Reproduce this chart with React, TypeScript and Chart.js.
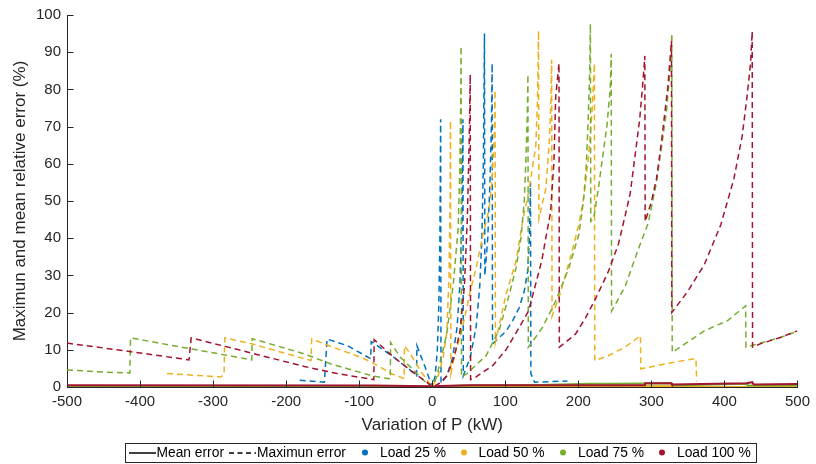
import React, { useEffect, useRef } from "react";
import { Chart, registerables } from "chart.js";

Chart.register(...registerables);

type Pt = [number, number];

const xTicks: number[] = [-500, -400, -300, -200, -100, 0, 100, 200, 300, 400, 500];
const yTicks: number[] = [0, 10, 20, 30, 40, 50, 60, 70, 80, 90, 100];

const xTitle = "Variation of P (kW)";
const yTitle = "Maximun and mean relative error (%)";
const legendLabels = ["Mean error", "Maximun error", "Load 25 %", "Load 50 %", "Load 75 %", "Load 100 %"];

const loadColors = ["#0072BD", "#EDB120", "#77AC30", "#A2142F"];

// Load 25 %
const maxLoad25: Pt[] = [
  [-181.5, 1.8], [-147.6, 1.3], [-144, 12.9], [-116, 11.1], [-84.4, 7.6], [-83.5, 12.2],
  [-52.6, 8], [-30, 4.5], [-21.5, 3], [-21, 11.1], [-10, 5.5], [0, 0],
  [4, 3], [7, 10], [9, 22], [10.5, 40], [11.5, 72], [12, 1],
  [20, 3], [28, 8], [34, 16], [38, 28], [40.5, 45], [42, 72], [42.5, 3],
  [52, 8], [60, 16], [65, 27], [68, 40], [70, 60], [71.5, 95], [72, 30],
  [76, 40], [79, 55], [81, 70], [82, 87], [82.5, 11.6],
  [101, 15], [110, 17.8], [119, 21.3], [126, 25.8], [130.5, 31], [133, 40], [134.5, 55], [135, 3.6],
  [140, 1.3], [185, 1.6],
];
const meanLoad25: Pt[] = [
  [-181.5, 0.1], [-20, 0.1], [0, 0], [20, 0.1], [185, 0.1],
];

// Load 50 %
const maxLoad50: Pt[] = [
  [-363, 3.6], [-320, 3.1], [-290, 2.7], [-285, 3.3], [-284, 13.2], [-247, 11.6], [-175, 7.6],
  [-166, 7.1], [-165, 12.9], [-136, 10.7], [-116, 9.3], [-93, 7.6], [-75, 5.8], [-55, 3.5],
  [-38.5, 2.3], [-38, 11.1], [-30, 8.9], [-16.6, 4.5], [0, 0],
  [8, 3], [15, 8], [20, 15], [23, 30], [24.5, 50], [25, 71.6], [25.5, 3.6],
  [31, 8.9], [37.7, 13.3], [44.5, 18.7], [51, 24.9], [60, 32], [69.5, 40.9], [78, 48], [82, 56],
  [84.5, 66], [86, 79.8], [86.5, 12],
  [101, 24.9], [114.7, 33.8], [123.7, 44.5], [132.7, 53.3], [141.8, 64.9], [144, 76.5], [145.5, 95.8], [146, 45.3],
  [155.4, 53.3], [160, 64.9], [162, 73.8], [163.5, 88], [164, 19],
  [175, 25], [188, 34], [196, 40], [200.5, 43.6], [205, 48], [209.6, 54.2], [214, 62.2], [218.7, 73.8], [222, 87], [222.5, 7.1],
  [241, 8.4], [264, 10.7], [285, 13.8], [285.5, 4.9],
  [309, 5.8], [332, 6.7], [361, 7.7], [362, 1.5],
];
const meanLoad50: Pt[] = [
  [-363, 0.2], [-40, 0.2], [0, 0], [25, 0.2], [222, 0.3], [362, 0.2], [363, 0], [500, 0],
];

// Load 75 %
const maxLoad75: Pt[] = [
  [-500, 4.6], [-450, 4.0], [-414, 3.8], [-413, 13.2], [-328.6, 10.2], [-247, 7.3], [-246.5, 13],
  [-175, 8.9], [-138.7, 6.2], [-84, 3.1], [-66, 2.4], [-57.5, 2.2], [-57, 12], [-43.7, 8],
  [-25.5, 4.5], [-12, 1.8], [0, 0],
  [6, 2.7], [19.7, 14.2], [28.8, 27.6], [35.5, 42.7], [37.8, 58.7], [39, 76.5], [39.5, 91.6], [40, 2.7],
  [47, 3.5], [74, 8.5], [92, 15.5], [105.6, 25], [114.7, 32], [121.4, 40], [126, 50], [128, 60], [130, 72], [131, 84], [131.5, 10.7],
  [135, 11.6], [151, 16], [169, 23.1], [187, 32], [200.7, 41], [207, 50], [211, 60], [213.5, 72], [215.5, 85], [216.5, 97.6], [217, 44.5],
  [221, 45.3], [228, 54.2], [232, 60], [239, 70], [243.6, 80], [245, 89.6], [245.5, 20.4],
  [264, 27], [282, 37], [295.6, 44], [307, 55], [320.5, 73.8], [326.4, 87], [328, 95], [328.5, 9.3],
  [372.5, 15.1], [404, 17.8], [429, 21.8], [429.5, 10.7],
  [440, 11.3], [476.5, 13.3], [500, 15],
];
const meanLoad75: Pt[] = [
  [-500, 0.3], [-60, 0.3], [0, 0], [40, 0.4], [131, 0.5], [217, 0.9], [245, 0.9], [328, 1.0],
  [330, 0.4], [430, 0.9], [432, 0.4], [500, 0.5],
];

// Load 100 %
const maxLoad100: Pt[] = [
  [-500, 11.8], [-420, 9.7], [-333, 7.3], [-330, 13.2], [-265, 10], [-175, 5.5], [-130, 3.6],
  [-80, 2.0], [-79.5, 12.7], [-52.6, 8], [-30, 4.5], [-7.5, 1.3], [0, 0],
  [10, 1], [20, 3], [30, 8], [38, 15], [44, 27], [48, 45], [50.5, 65], [52, 84], [52.5, 2],
  [60, 2.7], [83, 5.8], [101, 10], [119, 16], [132, 20.5], [142, 28], [150, 34], [155.4, 40], [162, 47],
  [166.6, 60.5], [169, 78], [173.5, 87], [174, 10.7],
  [196, 14.2], [209.6, 18.5], [223, 23.5], [241, 31], [255, 38.5], [264, 46], [271, 52], [277.5, 62],
  [284, 72], [288.7, 82.7], [291, 89], [291.5, 44.5],
  [300, 49.8], [307, 56], [313.7, 65.8], [318, 73], [322.7, 81], [327.5, 93], [328, 20],
  [350, 25.8], [372.5, 32.9], [395, 43.6], [413, 56], [424.4, 67.6], [431, 78.2], [435.8, 87.1], [438, 95.6], [438.5, 10.7],
  [449, 11.6], [476.5, 13.3], [500, 15.1],
];
const meanLoad100: Pt[] = [
  [-500, 0.45], [-80, 0.4], [-5, 0.2], [0, 0], [10, 0.3], [52, 0.45], [291, 0.45], [291.5, 1.0],
  [327, 1.0], [328, 0.7], [430, 1.0], [438, 1.3], [440, 0.7], [500, 0.8],
];

const maxSeries = [maxLoad25, maxLoad50, maxLoad75, maxLoad100];
const meanSeries = [meanLoad25, meanLoad50, meanLoad75, meanLoad100];

const FONT = "'Liberation Sans', Arial, Helvetica, sans-serif";
const AXIS = "#262626";

const inwardTicks = {
  id: "inwardTicks",
  afterDraw(chart: any) {
    const { ctx, chartArea } = chart;
    const xs = chart.scales.x;
    const ys = chart.scales.y;
    ctx.save();
    ctx.strokeStyle = AXIS;
    ctx.lineWidth = 1;
    ctx.beginPath();
    xTicks.forEach((v) => {
      const px = Math.round(xs.getPixelForValue(v)) + 0.5;
      ctx.moveTo(px, chartArea.bottom);
      ctx.lineTo(px, chartArea.bottom - 6.5);
    });
    yTicks.forEach((v) => {
      const py = Math.round(ys.getPixelForValue(v)) + 0.5;
      ctx.moveTo(chartArea.left, py);
      ctx.lineTo(chartArea.left + 6.5, py);
    });
    ctx.stroke();
    ctx.restore();
  },
};

const legendBox = {
  id: "legendBox",
  afterDraw(chart: any) {
    const { ctx } = chart;
    ctx.save();
    const top = 443.5;
    const h = 19;
    const cy = top + h / 2;
    ctx.fillStyle = "#ffffff";
    ctx.fillRect(125.5, top, 631, h);
    ctx.strokeStyle = AXIS;
    ctx.lineWidth = 1;
    ctx.strokeRect(125.5, top, 631, h);
    ctx.font = `13.8px ${FONT}`;
    ctx.textBaseline = "middle";
    ctx.textAlign = "left";
    ctx.fillStyle = "#000000";
    ctx.strokeStyle = "#000000";
    ctx.lineWidth = 1.5;
    ctx.beginPath();
    ctx.moveTo(129, cy);
    ctx.lineTo(156, cy);
    ctx.stroke();
    ctx.fillText(legendLabels[0], 156.5, cy + 0.5);
    ctx.setLineDash([5, 3.5]);
    ctx.beginPath();
    ctx.moveTo(229, cy);
    ctx.lineTo(256, cy);
    ctx.stroke();
    ctx.setLineDash([]);
    ctx.fillText(legendLabels[1], 257, cy + 0.5);
    const dotX = [365, 464, 563, 662];
    const txtX = [380, 478.5, 578, 677];
    for (let i = 0; i < 4; i++) {
      ctx.fillStyle = loadColors[i];
      ctx.beginPath();
      ctx.arc(dotX[i], cy - 0.5, 3, 0, Math.PI * 2);
      ctx.fill();
      ctx.fillStyle = "#000000";
      ctx.fillText(legendLabels[2 + i], txtX[i], cy + 0.5);
    }
    ctx.restore();
  },
};

export default function App() {
  const ref = useRef<HTMLCanvasElement | null>(null);

  useEffect(() => {
    document.body.style.margin = "0";
    if (!ref.current) return;
    const datasets: any[] = [];
    for (let i = 3; i >= 0; i--) {
      datasets.push({
        label: legendLabels[2 + i] + " mean",
        data: meanSeries[i].map(([x, y]) => ({ x, y })),
        borderColor: loadColors[i],
        borderWidth: 2,
        showLine: true,
        pointRadius: 0,
        fill: false,
        tension: 0,
      });
      datasets.push({
        label: legendLabels[2 + i] + " max",
        data: maxSeries[i].map(([x, y]) => ({ x, y })),
        borderColor: loadColors[i],
        borderWidth: 1.5,
        borderDash: [6, 4],
        showLine: true,
        pointRadius: 0,
        fill: false,
        tension: 0,
      });
    }
    const chart = new Chart(ref.current, {
      type: "scatter",
      data: { datasets },
      options: {
        animation: false,
        responsive: false,
        maintainAspectRatio: false,
        layout: { padding: { top: 12, right: 12, left: 0, bottom: 28 } },
        plugins: { legend: { display: false }, tooltip: { enabled: false } },
        scales: {
          x: {
            type: "linear",
            min: -500,
            max: 500,
            afterBuildTicks: (s: any) => {
              s.ticks = xTicks.map((v) => ({ value: v }));
            },
            ticks: {
              color: AXIS,
              font: { family: FONT, size: 15 },
              padding: 6,
              maxRotation: 0,
              autoSkip: false,
            },
            grid: { display: true, drawOnChartArea: false, drawTicks: false },
            border: { display: true, color: AXIS, width: 1 },
            title: {
              display: true,
              text: xTitle,
              color: AXIS,
              font: { family: FONT, size: 17 },
              padding: { top: 0, bottom: 0 },
            },
            afterFit: (s: any) => {
              s.height = 49;
            },
          },
          y: {
            type: "linear",
            min: 0,
            max: 100,
            afterBuildTicks: (s: any) => {
              s.ticks = yTicks.map((v) => ({ value: v }));
            },
            ticks: {
              color: AXIS,
              font: { family: FONT, size: 15 },
              padding: 6,
              autoSkip: false,
            },
            grid: { display: true, drawOnChartArea: false, drawTicks: false },
            border: { display: true, color: AXIS, width: 1 },
            title: {
              display: true,
              text: yTitle,
              color: AXIS,
              font: { family: FONT, size: 17 },
              padding: { top: 10, bottom: 0 },
            },
            afterFit: (s: any) => {
              s.width = 67;
            },
          },
        },
      },
      plugins: [inwardTicks, legendBox],
    });
    return () => chart.destroy();
  }, []);

  return (
    <div style={{ width: 816, height: 464 }}>
      <canvas ref={ref} width={816} height={464} style={{ display: "block" }} />
    </div>
  );
}
